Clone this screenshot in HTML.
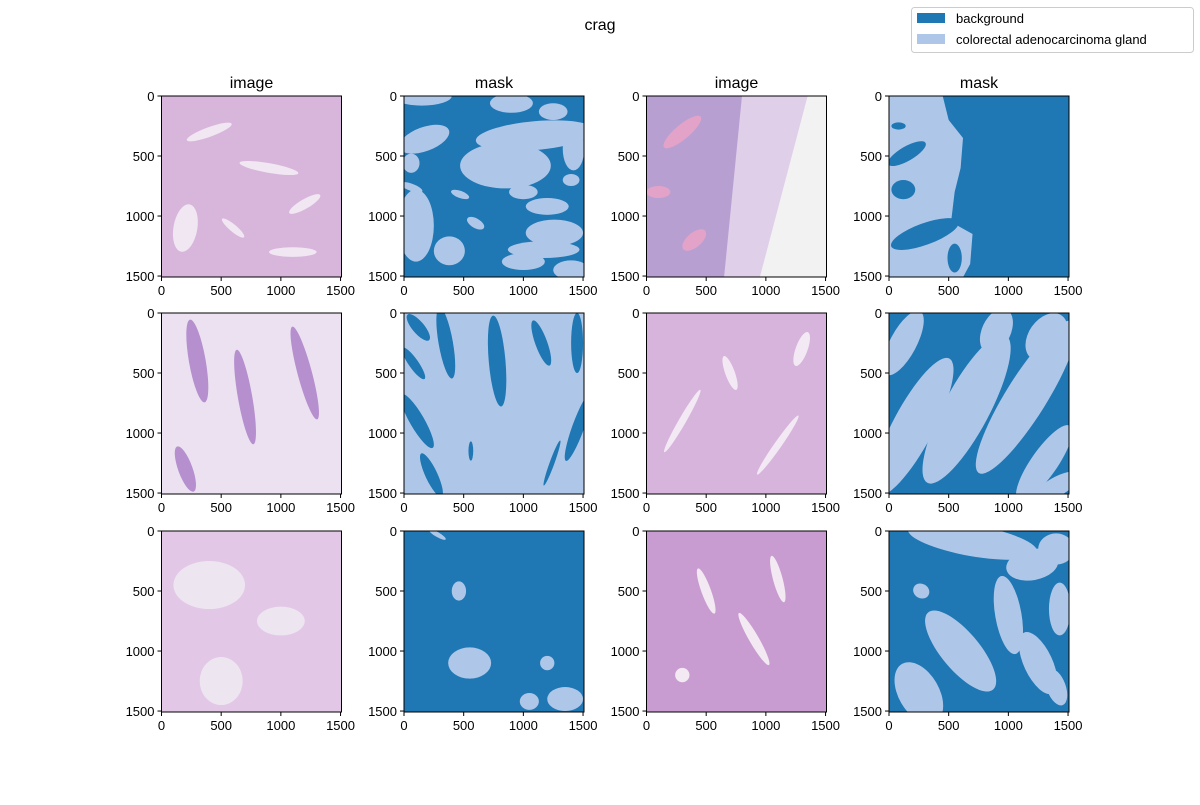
<!DOCTYPE html>
<html><head><meta charset="utf-8"><style>
body{margin:0;background:#fff;}
svg text{font-family:"Liberation Sans","DejaVu Sans",sans-serif;}
</style></head><body>
<svg id="fig" width="1200" height="800" viewBox="0 0 1200 800" xmlns="http://www.w3.org/2000/svg">
<rect width="1200" height="800" fill="#fff"/>
<text x="600" y="30" text-anchor="middle" font-size="16">crag</text>
<g>
<rect x="911.5" y="7.5" width="282" height="45" rx="3" fill="#fff" stroke="#ccc"/>
<rect x="917" y="13" width="28" height="10" fill="#1f77b4"/>
<text x="956" y="23" font-size="13">background</text>
<rect x="917" y="34" width="28" height="10" fill="#aec7e8"/>
<text x="956" y="44" font-size="13">colorectal adenocarcinoma gland</text>
</g>
</svg>
<script>
const ticks=[0,500,1000,1500];
const tickLabels=["0","500","1000","1500"];
const extent=1508;
const colLeft=[161.5,404,646.5,889];
const rowTop=[96,313,531];
const titles=["image","mask","image","mask"];
// mask blobs: [cx, cy, rx, ry, angle] in pixel data units
const mask11=[[150,0,250,80,0],[900,60,180,80,0],[1250,130,120,70,0],[1100,330,500,120,-5],[170,360,220,100,-20],[850,580,380,190,0],[1420,440,90,180,0],[1400,700,70,50,0],[60,560,70,80,0],[60,760,100,30,20],[470,820,80,30,20],[1000,800,120,60,0],[1200,920,180,70,0],[1260,1140,240,110,0],[600,1060,80,40,30],[1170,1280,300,70,0],[100,1080,150,300,0],[380,1290,130,120,0],[1000,1380,180,70,0],[1400,1450,150,80,0]];
const mask14Holes=[[150,480,180,60,-30],[120,780,100,80,0],[300,1150,300,90,-20],[550,1350,60,120,0],[80,250,60,30,0]];
const mask22=[[120,120,140,50,50],[80,420,160,40,55],[110,900,260,60,60],[350,250,60,300,-10],[780,400,70,380,-5],[1150,250,50,200,-20],[1450,250,50,250,0],[1460,950,50,300,20],[1240,1250,20,200,20],[230,1350,200,50,65],[560,1150,20,80,0]];
const mask24=[[200,950,650,170,-62],[650,800,700,190,-62],[1150,700,750,170,-58],[1300,1250,380,110,-55],[1320,200,220,150,-55],[120,250,300,110,-62],[1400,1450,220,80,-30],[900,150,200,120,-65]];
const mask32=[[280,30,80,20,30],[460,500,60,80,0],[550,1100,180,130,0],[1200,1100,60,60,0],[1350,1400,150,100,0],[1050,1420,80,70,0]];
const mask34=[[700,80,550,130,10],[1200,280,220,130,-10],[1400,150,150,130,0],[270,500,70,60,30],[1000,700,110,330,-10],[1430,650,90,220,0],[600,1000,160,420,-40],[1250,1100,120,280,-25],[250,1350,170,280,-30],[1400,1300,80,160,-20]];
const imageColors=["#d8b6dc","#b89fd2","#ece1f0","#d7b4dc","#e2c8e6","#c99cd1"];

const NS="http://www.w3.org/2000/svg";
const fig=document.getElementById('fig');
function mk(tag,attrs,parent){const e=document.createElementNS(NS,tag);for(const k in attrs)e.setAttribute(k,attrs[k]);(parent||fig).appendChild(e);return e;}
const W=180,H=181;
function sx(c,v){return colLeft[c]+v/extent*W;}
function sy(r,v){return rowTop[r]+v/extent*H;}
function blobs(g,c,r,list,fill){
  list.forEach(b=>{
    const e=mk('ellipse',{cx:sx(c,b[0]),cy:sy(r,b[1]),rx:b[2]/extent*W,ry:b[3]/extent*H,fill:fill,transform:`rotate(${b[4]} ${sx(c,b[0])} ${sy(r,b[1])})`},g);
    
    
  });
}
for(let r=0;r<3;r++)for(let c=0;c<4;c++){
  const g=mk('g',{});
  
  
  const cp=mk('clipPath',{id:`cp${r}${c}`},g);
  mk('rect',{x:colLeft[c],y:rowTop[r],width:W,height:H},cp);
  const inner=mk('g',{'clip-path':`url(#cp${r}${c})`},g);
  const x0=colLeft[c],y0=rowTop[r];
  if(c%2===0){
    const idx=r*2+c/2;
    const bg=mk('rect',{x:x0,y:y0,width:W,height:H,fill:imageColors[idx]},inner);
    
    
    if(idx===1){
      mk('polygon',{points:`${sx(c,800)},${y0} ${x0+W},${y0} ${x0+W},${y0+H} ${sx(c,650)},${y0+H}`,fill:"#e0cfe8"},inner);
      mk('polygon',{points:`${sx(c,1350)},${y0} ${x0+W},${y0} ${x0+W},${y0+H} ${sx(c,950)},${y0+H}`,fill:"#f3f2f3"},inner);
      blobs(inner,c,r,[[300,300,200,60,-40],[400,1200,120,60,-40],[100,800,100,50,0]],"#e3a3c8");
    }
    if(idx===0) blobs(inner,c,r,[[400,300,200,40,-20],[900,600,250,40,10],[1200,900,150,40,-30],[600,1100,120,30,40],[1100,1300,200,40,0],[200,1100,100,200,10]],"#f1e7f2");
    if(idx===2) blobs(inner,c,r,[[300,400,70,350,-10],[700,700,60,400,-10],[1200,500,60,400,-15],[200,1300,60,200,-20]],"#b68fcf");
    if(idx===3) blobs(inner,c,r,[[700,500,40,150,-20],[300,900,30,300,30],[1100,1100,30,300,35],[1300,300,50,150,20]],"#f3e9f4");
    if(idx===4) blobs(inner,c,r,[[400,450,300,200,0],[1000,750,200,120,0],[500,1250,180,200,0]],"#ede6f0");
    if(idx===5) blobs(inner,c,r,[[500,500,40,200,-20],[900,900,40,250,-30],[300,1200,60,60,0],[1100,400,40,200,-15]],"#f2e9f3");
  } else {
    const key=`${r}${c}`;
    if(key==='01'){mk('rect',{x:x0,y:y0,width:W,height:H,fill:"#1f77b4"},inner);blobs(inner,c,r,mask11,"#aec7e8");}
    if(key==='03'){mk('rect',{x:x0,y:y0,width:W,height:H,fill:"#1f77b4"},inner);
      const pts=[[0,0],[450,0],[500,200],[620,350],[600,600],[550,800],[520,1050],[700,1150],[680,1400],[620,1510],[0,1510]];
      mk('polygon',{points:pts.map(p=>sx(c,p[0])+','+sy(r,p[1])).join(' '),fill:"#aec7e8"},inner);
      blobs(inner,c,r,mask14Holes,"#1f77b4");}
    if(key==='11'){mk('rect',{x:x0,y:y0,width:W,height:H,fill:"#aec7e8"},inner);blobs(inner,c,r,mask22,"#1f77b4");}
    if(key==='13'){mk('rect',{x:x0,y:y0,width:W,height:H,fill:"#1f77b4"},inner);blobs(inner,c,r,mask24,"#aec7e8");}
    if(key==='21'){mk('rect',{x:x0,y:y0,width:W,height:H,fill:"#1f77b4"},inner);blobs(inner,c,r,mask32,"#aec7e8");}
    if(key==='23'){mk('rect',{x:x0,y:y0,width:W,height:H,fill:"#1f77b4"},inner);blobs(inner,c,r,mask34,"#aec7e8");}
  }
  mk('rect',{x:x0,y:y0,width:W,height:H,fill:"none",stroke:"#000","stroke-width":1},g);
  if(r===0){const t=mk('text',{x:x0+W/2,y:y0-8,'text-anchor':'middle','font-size':16},g);t.textContent=titles[c];
    }
  ticks.forEach((v,i)=>{
    const X=sx(c,v),Y=sy(r,v);
    mk('line',{x1:X,x2:X,y1:y0+H,y2:y0+H+4,stroke:"#000"},g);
    const tx=mk('text',{x:X,y:y0+H+18,'text-anchor':'middle','font-size':13},g);tx.textContent=tickLabels[i];
    
    mk('line',{x1:x0-4,x2:x0,y1:Y,y2:Y,stroke:"#000"},g);
    const ty=mk('text',{x:x0-7,y:Y+5,'text-anchor':'end','font-size':13},g);ty.textContent=tickLabels[i];
    
  });
}
</script>
</body></html>
